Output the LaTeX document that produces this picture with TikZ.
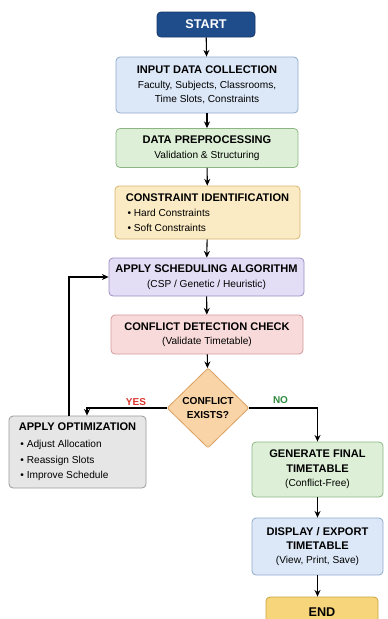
\documentclass[tikz,border=0pt]{standalone}
\usepackage{fontspec}
\setmainfont{Liberation Sans}
\usetikzlibrary{arrows.meta, shapes.geometric, calc}

\definecolor{startfill}{HTML}{1F4C8A}
\definecolor{startline}{HTML}{163A6B}
\definecolor{bluefill}{HTML}{DCE8F8}
\definecolor{blueline}{HTML}{8FA9CC}
\definecolor{greenfill}{HTML}{DDF0D7}
\definecolor{greenline}{HTML}{8DB584}
\definecolor{yellowfill}{HTML}{FBEBC4}
\definecolor{yellowline}{HTML}{D8B56C}
\definecolor{purplefill}{HTML}{E3DDF5}
\definecolor{purpleline}{HTML}{9C8FC4}
\definecolor{redfill}{HTML}{F9DADA}
\definecolor{redline}{HTML}{D49A9A}
\definecolor{orangefill}{HTML}{F9D4A6}
\definecolor{orangeline}{HTML}{D9A062}
\definecolor{grayfill}{HTML}{E6E6E6}
\definecolor{grayline}{HTML}{9A9A9A}
\definecolor{endfill}{HTML}{F7D57A}
\definecolor{endline}{HTML}{C9A33E}
\definecolor{yesred}{HTML}{D9342B}
\definecolor{nogreen}{HTML}{2E8B3E}

\newcommand{\boxtitle}{\bfseries\fontsize{8.3}{10.8}\selectfont}

\begin{document}
\begin{tikzpicture}[
    x=0.75pt, y=-0.75pt,
    >={Stealth[length=5pt, width=4.5pt]},
    sz/.style 2 args={minimum width=#1*0.75pt, minimum height=#2*0.75pt},
    box/.style={draw, rounded corners=3pt, line width=0.6pt, align=center,
                inner sep=0pt, font=\fontsize{7.6}{10.8}\selectfont},
    flow/.style={->, line width=0.8pt},
    tag/.style={font=\bfseries\fontsize{7.5}{9}\selectfont},
]
% page frame
\clip (0,0) rectangle (388,619);

% Main column
\node[box, sz={98}{25}, fill=startfill, draw=startline, text=white,
      font=\bfseries\fontsize{9.5}{11}\selectfont] (start) at (206,24.5) {START};
\node[box, sz={182}{56}, fill=bluefill, draw=blueline] (input) at (207,85)
    {{\boxtitle INPUT DATA COLLECTION}\\ Faculty, Subjects, Classrooms,\\ Time Slots, Constraints};
\node[box, sz={182}{39}, fill=greenfill, draw=greenline] (prep) at (207,148)
    {{\boxtitle DATA PREPROCESSING}\\ Validation \& Structuring};
\node[box, sz={185}{53}, fill=yellowfill, draw=yellowline, align=left] (cons) at (207.5,212.5)
    {{\boxtitle CONSTRAINT IDENTIFICATION}\\[1pt] \,• Hard Constraints\\ \,• Soft Constraints};
\node[box, sz={195}{38}, fill=purplefill, draw=purpleline] (sched) at (206.5,277)
    {{\boxtitle APPLY SCHEDULING ALGORITHM}\\ (CSP / Genetic / Heuristic)};
\node[box, sz={192}{39}, fill=redfill, draw=redline] (detect) at (207,334.5)
    {{\boxtitle CONFLICT DETECTION CHECK}\\ (Validate Timetable)};

% Decision
\node[box, diamond, rounded corners=1pt, sz={82}{80}, fill=orangefill, draw=orangeline,
      font=\bfseries\fontsize{7.6}{9.8}\selectfont] (dec) at (208,408) {CONFLICT\\EXISTS?};

% Optimisation loop
\node[box, sz={137}{72}, fill=grayfill, draw=grayline, align=left] (optim) at (77.5,452)
    {{\boxtitle APPLY OPTIMIZATION}\\[1.5pt] \,• Adjust Allocation\\[1pt] \,• Reassign Slots\\[1pt] \,• Improve Schedule};

% Output column
\node[box, sz={131}{55}, fill=greenfill, draw=greenline] (gen) at (317.5,469.5)
    {{\boxtitle GENERATE FINAL}\\ {\boxtitle TIMETABLE}\\ (Conflict-Free)};
\node[box, sz={131}{57}, fill=bluefill, draw=blueline] (disp) at (317.5,546.5)
    {{\boxtitle DISPLAY / EXPORT}\\ {\boxtitle TIMETABLE}\\ (View, Print, Save)};
\node[box, sz={112}{30}, fill=endfill, draw=endline,
      font=\bfseries\fontsize{9.5}{11}\selectfont] (finish) at (322,612) {END};

% Straight flow
\draw[flow] (start) -- (input);
\draw[flow] (input) -- (prep);
\draw[flow] (prep) -- (cons);
\draw[flow] (cons) -- (sched);
\draw[flow] (sched) -- (detect);
\draw[flow] (detect) -- (dec);
\draw[flow] (gen) -- (disp);
\draw[flow] (disp.south) -- (disp.south |- finish.north);

% Branches
\draw[flow] (dec.west) -| ($(optim.north)+(9.5,0)$);
\draw[flow] (dec.east) -| (gen.north);
\draw[flow] ($(optim.north)+(-8.5,0)$) |- (sched.west);

\node[tag, text=yesred] (yes) at (136,402) {YES};
\node[tag, text=nogreen] (no) at (280.5,400) {NO};

\end{tikzpicture}
\end{document}
